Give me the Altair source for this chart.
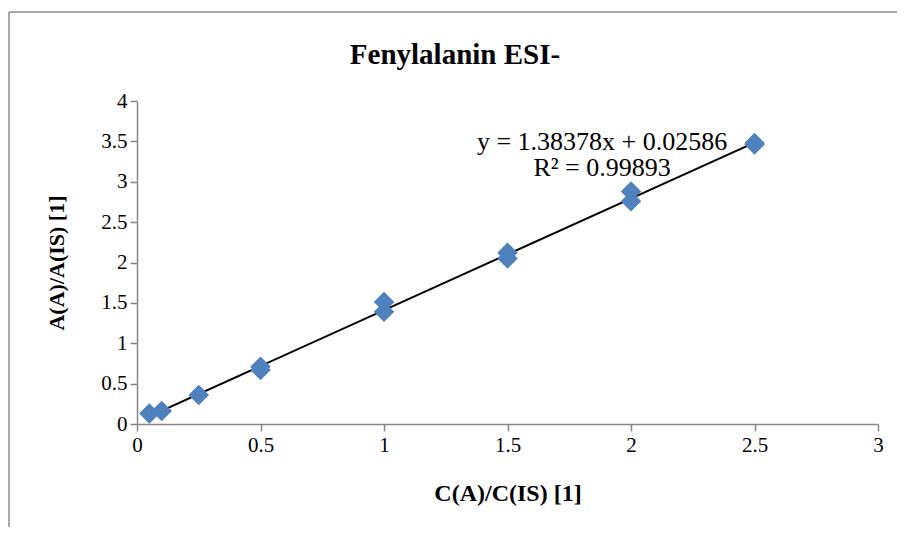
import altair as alt
import pandas as pd

# Data
conc = [0.05, 0.1, 0.25, 0.5, 0.5, 1.0, 1.0, 1.5, 1.5, 2.0, 2.0, 2.5, 2.5]
ratio = [0.13, 0.16, 0.36, 0.71, 0.67, 1.51, 1.39, 2.12, 2.05, 2.88, 2.76, 3.48, 3.46]

slope = 1.38378
intercept = 0.02586
fit_x = [0.05, 2.5]

eq_lines = ["y = 1.38378x + 0.02586", "R² = 0.99893"]
eq_x = [1.883, 1.883]
eq_y = [3.49, 3.17]

x_ticks = [0, 0.5, 1, 1.5, 2, 2.5, 3]
y_ticks = [0, 0.5, 1, 1.5, 2, 2.5, 3, 3.5, 4]

title_text = ["Fenylalanin ESI-"]

pts = pd.DataFrame({"x": conc, "y": ratio})
fit = pd.DataFrame({"x": fit_x, "y": [slope * v + intercept for v in fit_x]})
eq = pd.DataFrame({"label": eq_lines, "x": eq_x, "y": eq_y})

FONT = "Liberation Serif"
AX = "#868686"

xs = alt.Scale(domain=[0, 3], nice=False, zero=False)
ys = alt.Scale(domain=[0, 4], nice=False, zero=False)

xenc = alt.X("x:Q", scale=xs, axis=alt.Axis(
    values=x_ticks, title="C(A)/C(IS) [1]", grid=False, format="~g",
    domainColor=AX, tickColor=AX, tickSize=7, domainWidth=1.5, tickWidth=1.5,
    labelFont=FONT, labelFontSize=21, labelColor="black", labelPadding=3,
    titleFont=FONT, titleFontSize=24, titleFontWeight="bold", titleColor="black",
    titlePadding=26, labelFlush=False))
yenc = alt.Y("y:Q", scale=ys, axis=alt.Axis(
    values=y_ticks, title="A(A)/A(IS) [1]", grid=False, format="~g",
    domainColor=AX, tickColor=AX, tickSize=7, domainWidth=1.5, tickWidth=1.5,
    labelFont=FONT, labelFontSize=21, labelColor="black", labelPadding=3,
    titleFont=FONT, titleFontSize=22, titleFontWeight="bold", titleColor="black",
    titlePadding=32, labelFlush=False))

points = alt.Chart(pts).mark_point(
    shape="diamond", filled=True, size=420, color="#4F81BD", opacity=1
).encode(x=xenc, y=yenc)

line = alt.Chart(fit).mark_line(color="black", strokeWidth=2).encode(x="x:Q", y="y:Q")

text = alt.Chart(eq).mark_text(font=FONT, fontSize=26, color="black", align="center",
                               baseline="middle").encode(x="x:Q", y="y:Q", text="label:N")

title = alt.Chart(pd.DataFrame({"t": title_text})).mark_text(
    font=FONT, fontSize=29, fontWeight="bold", color="black", align="center",
    baseline="middle", clip=False).encode(
    x=alt.value(318), y=alt.value(-46), text="t:N")

frame_top = alt.Chart(pd.DataFrame({"a": [0]})).mark_rule(
    color="#8c8c8c", strokeWidth=1.5, clip=False).encode(
    x=alt.value(-128), x2=alt.value(760), y=alt.value(-89))
frame_left = alt.Chart(pd.DataFrame({"a": [0]})).mark_rule(
    color="#8c8c8c", strokeWidth=1.5, clip=False).encode(
    x=alt.value(-128), y=alt.value(-89), y2=alt.value(430))

chart = alt.layer(frame_top, frame_left, line, points, text, title).properties(
    width=741, height=323,
    padding={"left": 129, "top": 93, "right": 19, "bottom": 103},
    autosize=alt.AutoSizeParams(type="none"),
).configure(background="white").configure_view(stroke=None)

chart.save("out.html", embed_options={"renderer": "svg", "actions": False})
